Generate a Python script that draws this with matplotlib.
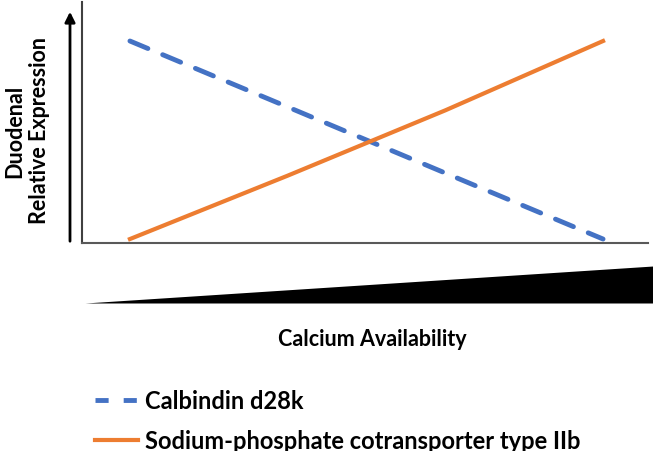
import matplotlib.pyplot as plt
from matplotlib.lines import Line2D
from matplotlib.patches import FancyArrowPatch

# calcium availability steps (low -> high)
levels = [0, 1, 2, 3]
calbindin = [1.0, 0.667, 0.333, 0.0]
napi_iib = [0.0, 0.32, 0.65, 1.0]
series_names = ["Calbindin d28k", "Sodium-phosphate cotransporter type IIb"]

# wedge under the x axis (relative height of the ramp)
wedge_x = [0.0, 1.0]
wedge_h = [0.0, 1.0]

BLUE = "#4472C4"
ORANGE = "#ED7D31"
FONT = ["Lato", "DejaVu Sans"]

W, H = 653, 452
fig = plt.figure(figsize=(W / 100, H / 100), dpi=100)

ax = fig.add_axes([82 / W, 1 - 244 / H, (648 - 82) / W, (244 - 3) / H])
ax.plot(levels, calbindin, color=BLUE, lw=3.5, dashes=(4, 3.3),
        dash_capstyle="round")
ax.plot(levels, napi_iib, color=ORANGE, lw=3)
ax.set_xlim(-0.304, 3.285)
ax.set_ylim(-0.02, 1.197)
ax.set_xticks([])
ax.set_yticks([])
for s in ("top", "right"):
    ax.spines[s].set_visible(False)
ax.spines["left"].set_color("#404040")
ax.spines["left"].set_linewidth(1.5)
ax.spines["bottom"].set_color("#595959")
ax.spines["bottom"].set_linewidth(1.5)

# y-axis arrow outside the axes
fig.add_artist(FancyArrowPatch(
    (70 / W, 1 - 245 / H), (70 / W, 1 - 10 / H), transform=fig.transFigure,
    arrowstyle="-|>,head_length=6,head_width=3", color="black", lw=2))

fig.text(15 / W, 1 - 131 / H, "Duodenal", rotation=90, ha="center", va="center",
         fontsize=15.5, fontweight="bold", family=FONT)
fig.text(40 / W, 1 - 130 / H, "Relative Expression", rotation=90, ha="center",
         va="center", fontsize=15.5, fontweight="bold", family=FONT)

# wedge
wax = fig.add_axes([85 / W, 1 - 304 / H, (653 - 85) / W, (304 - 267) / H])
wax.fill_between(wedge_x, 0, wedge_h, color="black", lw=0)
wax.set_xlim(0, 1)
wax.set_ylim(0, 1)
wax.axis("off")

fig.text(372 / W, 1 - 340 / H, "Calcium Availability", ha="center", va="center",
         fontsize=15.5, fontweight="bold", family=FONT)

handles = [
    Line2D([], [], color=BLUE, lw=3.5, dashes=(2.7, 3.1)),
    Line2D([], [], color=ORANGE, lw=3),
]
fig.legend(handles, series_names, loc="upper left",
           bbox_to_anchor=(95 / W, 1 - 390 / H), frameon=False,
           borderpad=0, borderaxespad=0,
           handlelength=1.8, handletextpad=0.3, labelspacing=0.72,
           prop={"family": FONT, "weight": "bold", "size": 17})

fig.savefig("out.png", dpi=100)
